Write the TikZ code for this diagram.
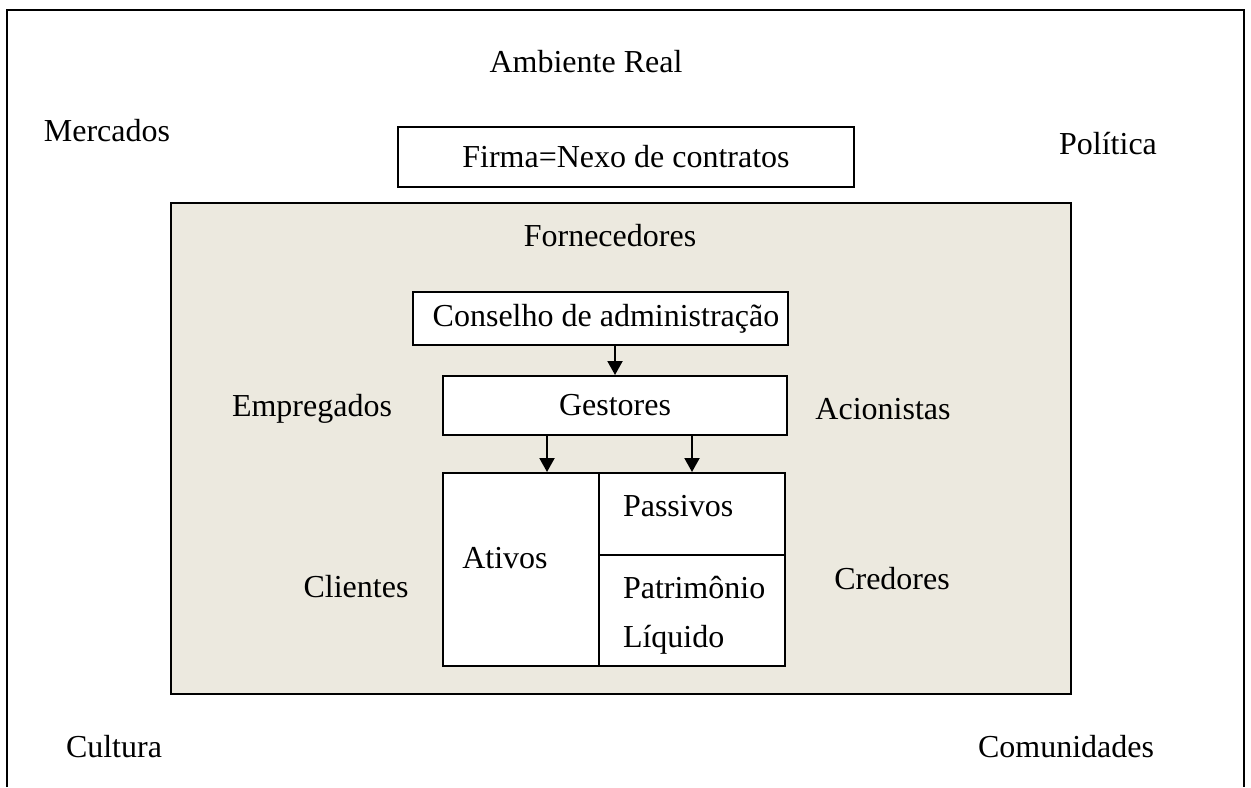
\documentclass[tikz,border=0pt]{standalone}
\usepackage{fontspec}
\setmainfont{Liberation Serif}
\usetikzlibrary{arrows.meta}
\definecolor{fundo}{HTML}{ECE9DF}
\begin{document}
\begin{tikzpicture}[x=0.5pt,y=-0.5pt,line width=1pt,>={Triangle[width=7.5pt,length=7pt]},
	font=\fontsize{16}{18}\selectfont,
	caixa/.style={draw,fill=white,inner sep=0pt},
	rot/.style={inner sep=0pt}]
	\useasboundingbox (0,0) rectangle (1251,787);
	\draw (7,787)--(7,10)--(1244,10)--(1244,787);
	\node[draw,fill=fundo,minimum width=450pt,minimum height=245.5pt] (nucleo) at (621,448.5) {};
	\node[caixa,minimum width=228pt,minimum height=30pt] (firma) at (626,157) {Firma=Nexo de contratos};
	\node[caixa,minimum width=187.5pt,minimum height=26.5pt] (conselho) at (600.5,318.5) {};
	\node[rot] (tconselho) at (606,319) {Conselho de administração};
	\node[caixa,minimum width=172pt,minimum height=29.5pt] (gestores) at (615,405.5) {Gestores};
	\node[caixa,minimum width=78pt,minimum height=96.5pt] (ativos) at (521,569.5) {};
	\node[caixa,minimum width=93pt,minimum height=41pt] (passivos) at (692,514) {};
	\node[caixa,minimum width=93pt,minimum height=55.5pt] (patrimonio) at (692,610.5) {};
	\node[rot] (tativos) at (505,558) {Ativos};
	\node[rot,anchor=west] (tpassivos) at (622,506) {Passivos};
	\node[rot,anchor=west] (tpatrimonio) at (622,588) {Patrimônio};
	\node[rot,anchor=west] (tliquido) at (622,640) {Líquido};
	\draw[->] (gestores.north |- conselho.south)--(gestores.north);
	\draw[->] ([xshift=-34pt]gestores.south) coordinate (g1)--(g1 |- ativos.north);
	\draw[->] (gestores.south -| passivos.north)--(passivos.north);
	\node[rot] (ambiente) at (586,62) {Ambiente Real};
	\node[rot] (mercados) at (107,131) {Mercados};
	\node[rot] (politica) at (1108,144) {Política};
	\node[rot] (fornecedores) at (610,236) {Fornecedores};
	\node[rot] (empregados) at (312,409) {Empregados};
	\node[rot] (acionistas) at (883,409) {Acionistas};
	\node[rot] (clientes) at (356,587) {Clientes};
	\node[rot] (credores) at (892,579) {Credores};
	\node[rot] (cultura) at (114,747) {Cultura};
	\node[rot] (comunidades) at (1066,747) {Comunidades};
\end{tikzpicture}
\end{document}
